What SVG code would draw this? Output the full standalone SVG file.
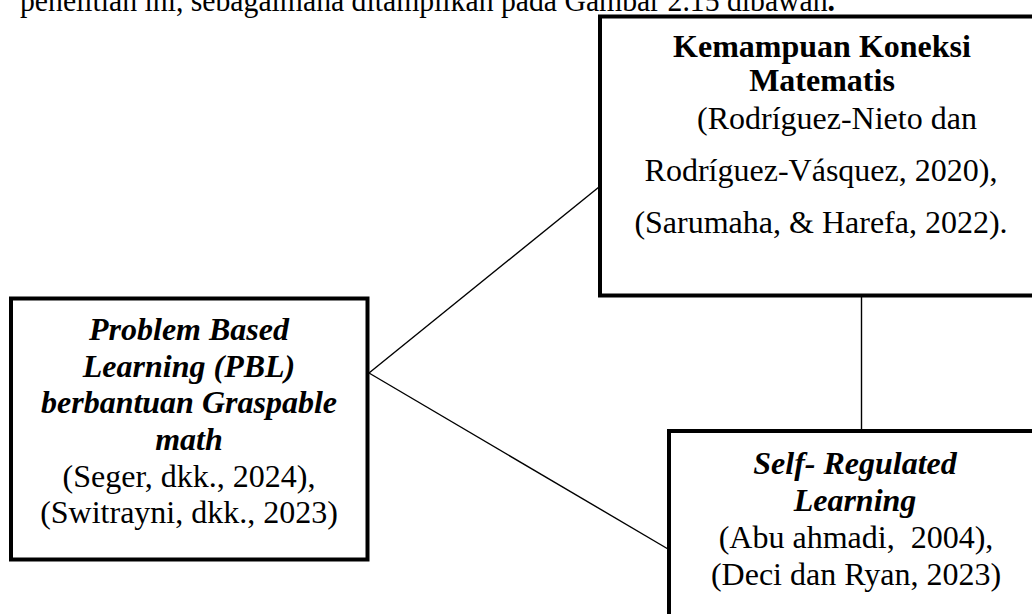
<svg xmlns="http://www.w3.org/2000/svg" width="1032" height="614" viewBox="0 0 1032 614">
  <style>
    .box { fill: #ffffff; stroke: #000000; stroke-width: 4; }
    .link { stroke: #000000; stroke-width: 1.4; fill: none; }
    text { font-family: "Liberation Serif", "Times New Roman", serif; font-size: 32px; fill: #000000; }
    .c { text-anchor: middle; }
    .b { font-weight: bold; }
    .bi { font-weight: bold; font-style: italic; }
  </style>
  <rect width="1032" height="614" fill="#ffffff"/>

  <!-- running paragraph line above the figure -->
  <text id="paragraph" x="20" y="11" textLength="815" lengthAdjust="spacingAndGlyphs">penelitian ini, sebagaimana ditampilkan pada Gambar 2.15 dibawah<tspan class="b">.</tspan></text>

  <!-- connectors -->
  <g id="connectors">
    <line class="link" x1="369" y1="373" x2="599" y2="187"/>
    <line class="link" x1="369" y1="373" x2="668" y2="549"/>
    <line class="link" x1="861.5" y1="297" x2="861.5" y2="430"/>
  </g>

  <!-- mathematical connection ability -->
  <g id="node-koneksi">
    <rect class="box" x="600" y="16.5" width="450" height="279"/>
    <text class="c b" x="822" y="57">Kemampuan Koneksi</text>
    <text class="c b" x="822" y="91">Matematis</text>
    <text x="697" y="129">(Rodríguez-Nieto dan</text>
    <text class="c" x="821" y="181">Rodríguez-Vásquez, 2020),</text>
    <text class="c" x="821" y="233">(Sarumaha, &amp; Harefa, 2022).</text>
  </g>

  <!-- problem based learning -->
  <g id="node-pbl">
    <rect class="box" x="11" y="298.5" width="356.5" height="261"/>
    <text class="c bi" x="189" y="340">Problem Based</text>
    <text class="c bi" x="189" y="377">Learning (PBL)</text>
    <text class="c bi" x="189" y="413">berbantuan Graspable</text>
    <text class="c bi" x="189" y="450">math</text>
    <text class="c" x="189" y="487">(Seger, dkk., 2024),</text>
    <text class="c" x="189" y="523">(Switrayni, dkk., 2023)</text>
  </g>

  <!-- self-regulated learning -->
  <g id="node-srl">
    <rect class="box" x="669" y="431" width="400" height="220"/>
    <text class="c bi" x="855" y="474">Self- Regulated</text>
    <text class="c bi" x="855" y="511">Learning</text>
    <text class="c" x="856" y="548" xml:space="preserve">(Abu ahmadi,  2004),</text>
    <text class="c" x="856" y="585">(Deci dan Ryan, 2023)</text>
  </g>
</svg>
